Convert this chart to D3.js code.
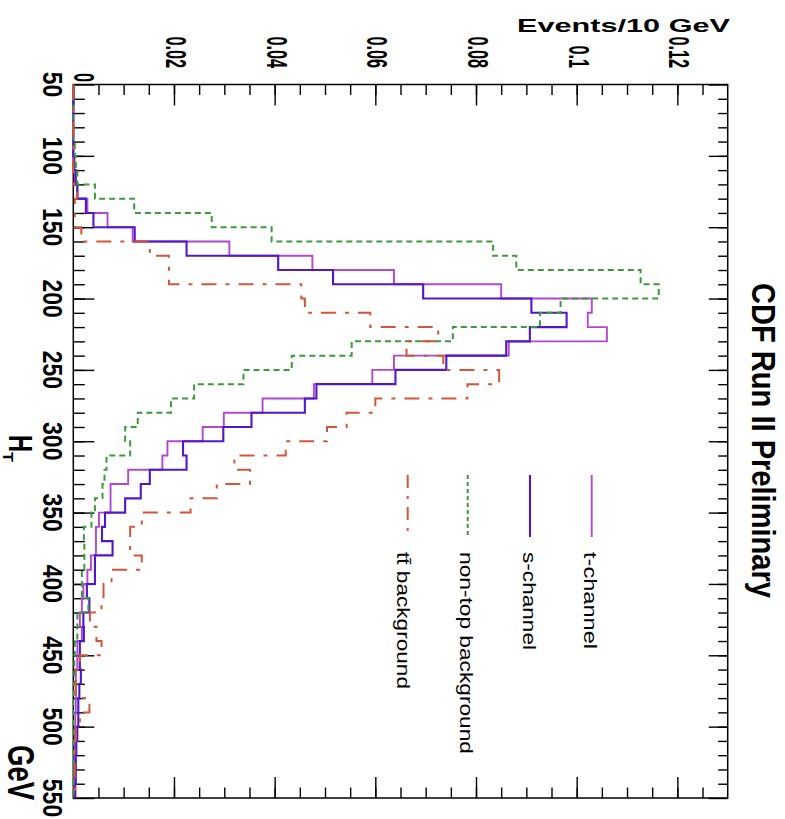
<!DOCTYPE html>
<html>
<head>
<meta charset="utf-8">
<script src="https://cdn.jsdelivr.net/npm/d3@7"></script>
<style>
body { margin: 0; background: #fff; }
svg { display: block; }
text { font-family: "Liberation Sans", Arial, sans-serif; }
</style>
</head>
<body>
<div id="chart"></div>
<script>
// HT bins (low edge, GeV), 10 GeV wide
var htBins = [50,60,70,80,90,100,110,120,130,140,150,160,170,180,190,200,210,220,230,240,
              250,260,270,280,290,300,310,320,330,340,350,360,370,380,390,400,410,420,430,440,
              450,460,470,480,490,500,510,520,530,540];
var binWidth = 10;

var tChannel = [0,0,0,0,0,0,0.0003,0.0008,0.0028,0.0068,0.0118,0.031,0.0475,0.0637,0.085,0.103,0.1022,0.106,0.0865,0.0637,
                0.0594,0.0478,0.0376,0.0299,0.0257,0.0187,0.0177,0.0109,0.0074,0.0074,0.0051,0.0045,0.0045,0.0035,0.0028,0.002,0.0017,0.0013,0.0017,0.0008,
                0.0008,0.0005,0.0005,0.0005,0.0004,0.0003,0.0003,0.0002,0.0002,0.0002];
var sChannel = [0,0,0,0,0,0.0002,0.0005,0.0008,0.0025,0.004,0.0122,0.0225,0.0407,0.0516,0.0695,0.091,0.098,0.0907,0.086,0.0741,
                0.064,0.0483,0.046,0.0354,0.0298,0.0218,0.0225,0.0152,0.0134,0.0103,0.0063,0.0057,0.0078,0.0043,0.0043,0.0027,0.0032,0.002,0.0021,0.0013,
                0.0013,0.0015,0.0012,0.001,0.001,0.0008,0.0006,0.0005,0.0005,0.0004];
var nonTop   = [0,0,0,0,0.0003,0.0005,0.0008,0.0043,0.0121,0.0275,0.0394,0.0834,0.088,0.1127,0.1163,0.0968,0.0927,0.0754,0.0553,0.0434,
                0.0338,0.024,0.0194,0.0128,0.0103,0.0113,0.0066,0.0062,0.0058,0.0043,0.0036,0.0021,0.0022,0.0022,0.0017,0.0017,0.003,0.0008,0.0008,0.0003,
                0.0002,0.0002,0.0001,0,0,0,0,0,0,0];
var ttbar    = [0,0,0,0,0,0,0,0.0008,0.0003,0.0003,0.0016,0.0152,0.019,0.019,0.0453,0.046,0.059,0.0725,0.0662,0.0735,
                0.0846,0.0783,0.06,0.0543,0.0504,0.0422,0.032,0.0351,0.0285,0.0233,0.0136,0.0113,0.0113,0.0136,0.0076,0.006,0.0056,0.0033,0.0046,0.0056,
                0.0013,0.0005,0.0005,0.0032,0.0013,0.0005,0.0003,0.0003,0.0003,0.0003];

var seriesNames = ["t-channel", "s-channel", "non-top background", "tt\u0304 background"];

var evTicks  = [0, 0.02, 0.04, 0.06, 0.08, 0.1, 0.12];
var evLabels = ["0", "0.02", "0.04", "0.06", "0.08", "0.1", "0.12"];
var htTicks  = [50, 100, 150, 200, 250, 300, 350, 400, 450, 500, 550];

var W = 785, H = 819;
var svg = d3.select("#chart").append("svg").attr("width", W).attr("height", H);

var padL = 73.3, padR = 727.7, padT = 84.5, padB = 798;
var x = d3.scaleLinear().domain([0, 0.13]).range([padL, padR]);
var y = d3.scaleLinear().domain([50, 550]).range([padT, padB]);

// frame
svg.append("rect")
    .attr("x", padL).attr("y", padT)
    .attr("width", padR - padL).attr("height", padB - padT)
    .attr("fill", "none").attr("stroke", "#000").attr("stroke-width", 1.5);

// ticks
var evMinor = d3.range(0.005, 0.13, 0.005);
var htMinor = d3.range(60, 550, 10);

function ticks(g, axis, vals, size) {
    g.call(axis.tickValues(vals).tickSize(size).tickFormat(""));
    g.select(".domain").remove();
    g.selectAll(".tick line").attr("stroke", "#000").attr("stroke-width", 1.4);
}
var gt = svg.append("g").attr("transform", "translate(0," + padT + ")");
ticks(gt.append("g"), d3.axisTop(x), evMinor, -10.5);
ticks(gt.append("g"), d3.axisTop(x), evTicks, -21);
var gb = svg.append("g").attr("transform", "translate(0," + padB + ")");
ticks(gb.append("g"), d3.axisBottom(x), evMinor, -10.5);
ticks(gb.append("g"), d3.axisBottom(x), evTicks, -21);
var gl = svg.append("g").attr("transform", "translate(" + padL + ",0)");
ticks(gl.append("g"), d3.axisLeft(y), htMinor, -11.5);
ticks(gl.append("g"), d3.axisLeft(y), htTicks, -21);
var gr = svg.append("g").attr("transform", "translate(" + padR + ",0)");
ticks(gr.append("g"), d3.axisRight(y), htMinor, -9.5);
ticks(gr.append("g"), d3.axisRight(y), htTicks, -19);

// histograms
var series = [
  {name: seriesNames[0], values: tChannel, color: "#b048d0", dash: null,       legDash: null,       width: 1.9, legX: 591.7, textX: 583.5, len: 97},
  {name: seriesNames[1], values: sChannel, color: "#5018c8", dash: null,       legDash: null,       width: 2.1, legX: 530,   textX: 523,   len: 98},
  {name: seriesNames[2], values: nonTop,   color: "#3c9a3c", dash: "6,4",      legDash: "4,3",      width: 2,   legX: 467.7, textX: 460,   len: 202},
  {name: seriesNames[3], values: ttbar,    color: "#d0573a", dash: "15,9,4,9", legDash: "13,8,3,8", width: 2,   legX: 407.7, textX: 397,   len: 137}
];

var line = d3.line().x(function(d){ return x(d[0]); }).y(function(d){ return y(d[1]); });

series.forEach(function(s) {
    var pts = [];
    for (var i = 0; i < htBins.length; i++) {
        pts.push([s.values[i], htBins[i]]);
        pts.push([s.values[i], htBins[i] + binWidth]);
    }
    svg.append("path")
        .attr("d", line(pts))
        .attr("fill", "none")
        .attr("stroke", s.color)
        .attr("stroke-width", s.width)
        .attr("stroke-dasharray", s.dash);
});

// legend
series.forEach(function(s) {
    svg.append("line")
        .attr("x1", s.legX).attr("x2", s.legX)
        .attr("y1", 475).attr("y2", 537)
        .attr("stroke", s.color).attr("stroke-width", s.width)
        .attr("stroke-dasharray", s.legDash);
    svg.append("text")
        .attr("transform", "translate(" + s.textX + ",552) rotate(90)")
        .attr("font-size", 18.5)
        .attr("textLength", s.len).attr("lengthAdjust", "spacingAndGlyphs")
        .text(s.name);
});

// top axis labels
evTicks.forEach(function(v, i) {
    var tx = i == 0 ? x(v) + 1 : x(v) - 8;
    var ty = i == 0 ? 82 : 68;
    svg.append("text")
        .attr("transform", "translate(" + tx + "," + ty + ") rotate(90) scale(0.56,1)")
        .attr("text-anchor", "end")
        .attr("font-size", 29).attr("font-weight", "bold")
        .text(evLabels[i]);
});

// left axis labels
htTicks.forEach(function(v) {
    svg.append("text")
        .attr("transform", "translate(43," + y(v) + ") rotate(90) scale(0.85,1)")
        .attr("text-anchor", "middle")
        .attr("font-size", 27).attr("font-weight", "bold")
        .text(v);
});

// titles
svg.append("text")
    .attr("x", 517).attr("y", 32)
    .attr("font-size", 19).attr("font-weight", "bold")
    .attr("textLength", 213).attr("lengthAdjust", "spacingAndGlyphs")
    .text("Events/10 GeV");

svg.append("text")
    .attr("transform", "translate(752,283) rotate(90)")
    .attr("font-size", 33).attr("font-weight", "bold")
    .attr("textLength", 315).attr("lengthAdjust", "spacingAndGlyphs")
    .text("CDF Run II Preliminary");

svg.append("text")
    .attr("transform", "translate(9,435) rotate(90)")
    .attr("font-size", 34).attr("font-weight", "bold")
    .attr("textLength", 17).attr("lengthAdjust", "spacingAndGlyphs")
    .text("H");
svg.append("text")
    .attr("transform", "translate(3,452) rotate(90)")
    .attr("font-size", 14).attr("font-weight", "bold")
    .attr("textLength", 10).attr("lengthAdjust", "spacingAndGlyphs")
    .text("T");

svg.append("text")
    .attr("transform", "translate(8,745) rotate(90)")
    .attr("font-size", 37).attr("font-weight", "bold")
    .attr("textLength", 55).attr("lengthAdjust", "spacingAndGlyphs")
    .text("GeV");
</script>
</body>
</html>
